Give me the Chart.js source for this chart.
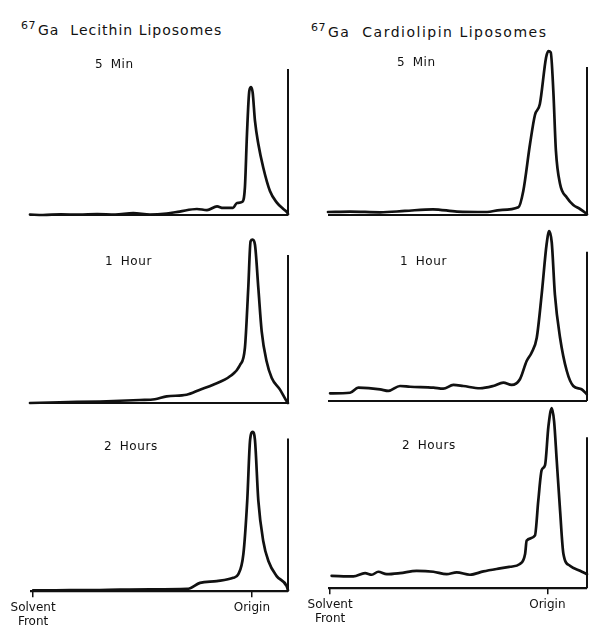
<!DOCTYPE html>
<html>
<head>
<meta charset="utf-8">
<script src="https://cdn.jsdelivr.net/npm/chart.js@4.4.1/dist/chart.umd.min.js"></script>
<style>
  html, body { margin:0; padding:0; background:#fff; overflow:hidden; }
  #page { position:relative; width:589px; height:626px; overflow:hidden; background:#fff; }
  canvas { position:absolute; }
  .title { position:absolute; font-family:'DejaVu Sans', sans-serif; font-size:14px; line-height:14px; color:#111; white-space:pre; }
  .title .sup { position:relative; top:-6px; font-size:11px; letter-spacing:0.5px; margin-right:2px; }
  .plabel { position:absolute; font-family:'DejaVu Sans', sans-serif; font-size:12px; line-height:12px; letter-spacing:0.6px; word-spacing:3px; color:#111; white-space:pre; }
</style>
</head>
<body>
<div id="page"></div>
<script>
// ---- Data (x: distance along strip, % from solvent front; y: activity, arbitrary units) ----
const lecithin5MinX  = [0, 5, 12, 19, 26, 33, 40, 46.5, 53, 58, 64.7, 68.6, 72.5, 74.8, 78.7, 80.2, 82.2, 83.3, 84.1, 85, 85.7, 86.3, 87.2, 88.5, 90.4, 93, 95.6, 98.2, 99.7, 100];
const lecithin5MinY  = [0.3, 0, 0.5, 0.2, 0.6, 0.3, 1.3, 0.3, 1, 2.3, 4, 3.3, 5.7, 4.7, 4.7, 8, 8.7, 18.4, 54, 82.7, 85.3, 81.7, 62.7, 47.3, 31.7, 16, 8.4, 4, 1.7, 0.5];

const cardio5MinX    = [0, 8.5, 20.1, 29.7, 40.5, 49.8, 61.4, 66.4, 73.5, 75.4, 78, 79.9, 81.8, 84.2, 85.1, 86, 87, 88, 89.6, 92.2, 94.7, 97.3, 99.2, 100];
const cardio5MinY    = [2, 2.3, 1.8, 2.7, 3.8, 2.3, 2, 3.3, 5.1, 16, 47.3, 66.7, 74, 105, 109.3, 108.4, 82.7, 42.7, 20.7, 11.7, 6.7, 4, 1.7, 0.5];

const lecithin1HrX   = [0, 11.6, 27.1, 42.6, 48.4, 53, 60.7, 65.9, 71, 77.5, 81.4, 83.3, 84.6, 85.5, 86.3, 87.2, 88.5, 89.8, 91.7, 93.7, 96.9, 99.5, 100];
const lecithin1HrY   = [0, 0.5, 1, 2, 2.5, 4.4, 5.5, 8.9, 12.2, 17.8, 25.3, 36.7, 76.7, 107.8, 108.9, 105.5, 76.7, 47.8, 27.8, 16.7, 8.9, 1.1, 0];

const cardio1HrX     = [0.8, 8.5, 11.7, 20.1, 23.3, 27.8, 31.7, 40.7, 44.5, 48.4, 52.2, 58.7, 63.8, 67.7, 70.9, 74.1, 76.7, 78.6, 80.6, 82.5, 84.4, 85.4, 86.4, 87.6, 89.6, 92.2, 94.7, 97.9, 99.9];
const cardio1HrY     = [5.1, 5.5, 8.9, 7.8, 6.7, 10, 9.5, 8.9, 8.2, 10.7, 10, 8.5, 10, 12.2, 10.7, 14.5, 26.7, 32.2, 42.2, 71.1, 104.5, 113.3, 105.5, 71.1, 42.2, 20, 10, 7.8, 4.5];

const lecithin2HrX   = [1.2, 10, 27.1, 46.5, 60.9, 65.9, 72.4, 78.8, 80.7, 82.7, 84.2, 85.3, 86.3, 87.2, 88.5, 90.4, 92.4, 95.6, 99.5, 100];
const lecithin2HrY   = [0.5, 0.6, 0.8, 1.2, 1.5, 5.5, 6.7, 8.9, 11.1, 24.5, 60, 100, 105.5, 100, 60, 33.3, 20, 10, 3.3, 0.5];

const cardio2HrX     = [1.4, 9.8, 14.3, 16.9, 19.4, 22.7, 27.8, 34.2, 40.7, 45.8, 49.7, 54.8, 60, 66.4, 70.3, 74.1, 76.1, 76.7, 79.9, 81.2, 82.5, 83.8, 85.1, 86.4, 87.3, 88.3, 89.6, 90.9, 93.4, 97.3, 100];
const cardio2HrY     = [8.2, 7.8, 10, 8.9, 10.9, 9.3, 10, 11.5, 10.9, 9.3, 10.5, 8.9, 11.1, 13.1, 14.2, 16, 22.7, 31.5, 34.9, 58.2, 78.2, 81.5, 107.1, 119.3, 110.5, 84.9, 51.5, 22.7, 14.9, 11.5, 9.3];

// Strip end marker heights (same units as y)
const endMarkerHeights = [97.3, 98.7, 98.7, 99.5, 101.1, 100];
// Column titles and panel labels
const columnTitles = ['Lecithin', 'Cardiolipin'];
const panelLabels  = ['5 Min', '5 Min', '1 Hour', '1 Hour', '2 Hours', '2 Hours'];
// Tick labels for the bottom panels
const tickLabels = [['Solvent', 'Front'], 'Origin'];
const lecithinTickValues = [1.2, 86];
const cardioTickValues   = [0.8, 84.7];

// ---- Layout (pixels) ----
const Y_MAX = 120;
const PAD = { top: 12, left: 30, right: 8, bottom: 6 };
const panels = [
  { xs: lecithin5MinX, ys: lecithin5MinY, left: 0,   top: 23.3,  w: 296, h: 198, ticks: null },
  { xs: cardio5MinX,   ys: cardio5MinY,   left: 298, top: 23.3,  w: 297, h: 198, ticks: null },
  { xs: lecithin1HrX,  ys: lecithin1HrY,  left: 0,   top: 210.7, w: 296, h: 198, ticks: null },
  { xs: cardio1HrX,    ys: cardio1HrY,    left: 298, top: 209,   w: 297, h: 198, ticks: null },
  { xs: lecithin2HrX,  ys: lecithin2HrY,  left: 0,   top: 398,   w: 296, h: 238, ticks: lecithinTickValues },
  { xs: cardio2HrX,    ys: cardio2HrY,    left: 298, top: 395.3, w: 297, h: 238, ticks: cardioTickValues }
];
const labelPos = [[95, 58], [397, 56], [105, 255], [400, 255], [104, 440], [402, 439]];
const titlePos = [[21, 23, 1], [311, 25, 1.5]];

Chart.defaults.font.family = "'DejaVu Sans', sans-serif";
Chart.defaults.color = '#111';

const framePlugin = {
  id: 'frame',
  beforeDatasetsDraw(chart, args, opts) {
    const xs = chart.scales.x, ys = chart.scales.y, ctx = chart.ctx;
    const y0 = ys.getPixelForValue(0);
    ctx.save();
    ctx.strokeStyle = opts.color;
    ctx.lineCap = 'butt';
    ctx.lineWidth = opts.baseWidth;
    ctx.beginPath();
    ctx.moveTo(xs.getPixelForValue(opts.start), y0);
    ctx.lineTo(xs.getPixelForValue(opts.endX), y0);
    ctx.stroke();
    ctx.lineWidth = opts.endWidth;
    const xe = xs.getPixelForValue(opts.endX);
    ctx.beginPath();
    ctx.moveTo(xe, y0);
    ctx.lineTo(xe, ys.getPixelForValue(opts.endHeight));
    ctx.stroke();
    ctx.restore();
  }
};

const page = document.getElementById('page');

titlePos.forEach((p, i) => {
  const d = document.createElement('div');
  d.className = 'title';
  d.style.left = p[0] + 'px';
  d.style.top = p[1] + 'px';
  d.style.letterSpacing = p[2] + 'px';
  d.innerHTML = '<span class="sup">67</span>Ga  ' + columnTitles[i] + ' Liposomes';
  page.appendChild(d);
});

panels.forEach((p, i) => {
  const cv = document.createElement('canvas');
  cv.width = p.w; cv.height = p.h;
  cv.style.left = p.left + 'px';
  cv.style.top = p.top + 'px';
  cv.style.width = p.w + 'px';
  cv.style.height = p.h + 'px';
  page.appendChild(cv);

  const hasTicks = !!p.ticks;
  new Chart(cv, {
    type: 'line',
    data: {
      datasets: [{
        data: p.xs.map((x, k) => ({ x: x, y: p.ys[k] })),
        borderColor: '#111',
        borderWidth: 2.7,
        pointRadius: 0,
        fill: false,
        cubicInterpolationMode: 'monotone',
        clip: false,
        borderJoinStyle: 'round',
        borderCapStyle: 'round'
      }]
    },
    options: {
      responsive: false,
      animation: false,
      events: [],
      layout: { padding: { top: PAD.top, left: PAD.left, right: PAD.right, bottom: hasTicks ? 4 : PAD.bottom } },
      plugins: {
        legend: { display: false },
        tooltip: { enabled: false },
        frame: { color: '#111', baseWidth: 2.2, endWidth: 2, start: 0, endX: 100, endHeight: endMarkerHeights[i] }
      },
      scales: {
        x: {
          type: 'linear', min: 0, max: 100,
          display: hasTicks,
          border: { display: false },
          grid: { display: true, drawOnChartArea: false, drawTicks: true, tickLength: 6, color: '#111', lineWidth: 1.5 },
          afterBuildTicks: (scale) => { if (hasTicks) scale.ticks = p.ticks.map(v => ({ value: v })); },
          ticks: {
            autoSkip: false, maxRotation: 0, minRotation: 0, padding: 3,
            font: { size: 12, lineHeight: 1.2 }, color: '#111',
            callback: (val, idx) => tickLabels[idx]
          }
        },
        y: { type: 'linear', min: 0, max: Y_MAX, display: false }
      }
    },
    plugins: [framePlugin]
  });
});

labelPos.forEach((p, i) => {
  const d = document.createElement('div');
  d.className = 'plabel';
  d.style.left = p[0] + 'px';
  d.style.top = p[1] + 'px';
  d.textContent = panelLabels[i];
  page.appendChild(d);
});
</script>
</body>
</html>
